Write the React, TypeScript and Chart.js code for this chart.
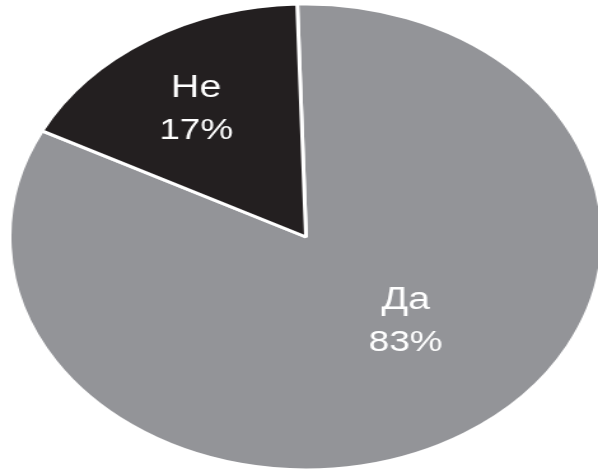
import React, { useEffect, useRef } from "react";
import { Chart, registerables } from "chart.js";

Chart.register(...registerables);

const categories: string[] = ["Да", "Не"];
const values: number[] = [83, 17];
const sliceColors: string[] = ["#939498", "#231f20"];

// label placement relative to each arc (fraction of radius, angle shift in degrees)
const labelRadiusFraction: number[] = [0.49, 0.666];
const labelAngleShift: number[] = [-11, -1.5];

const INTERNAL_W = 470;
const INTERNAL_H = 469;
const DISPLAY_W = 598;
const DISPLAY_H = 469;

const labelPlugin = {
  id: "sliceLabels",
  afterDatasetsDraw(chart: any) {
    const ctx = chart.ctx;
    const meta = chart.getDatasetMeta(0);
    const data = chart.data.datasets[0].data as number[];
    const total = data.reduce((a, b) => a + b, 0);
    ctx.save();
    ctx.fillStyle = "#ffffff";
    ctx.textAlign = "center";
    ctx.textBaseline = "middle";
    meta.data.forEach((arc: any, i: number) => {
      const p = arc.getProps(["x", "y", "startAngle", "endAngle", "outerRadius"], true);
      const mid = (p.startAngle + p.endAngle) / 2 + (labelAngleShift[i] * Math.PI) / 180;
      const r = p.outerRadius * labelRadiusFraction[i];
      const cx = p.x + Math.cos(mid) * r;
      const cy = p.y + Math.sin(mid) * r;
      const pct = Math.round((data[i] / total) * 100) + "%";
      ctx.font = "31px 'Liberation Sans', Arial, sans-serif";
      ctx.fillText(chart.data.labels[i], cx, cy - 20);
      ctx.font = "29px 'Liberation Sans', Arial, sans-serif";
      ctx.fillText(pct, cx, cy + 23);
    });
    ctx.restore();
  },
};

export default function App() {
  const ref = useRef<HTMLCanvasElement | null>(null);
  useEffect(() => {
    if (!ref.current) return;
    const chart = new Chart(ref.current, {
      type: "pie",
      data: {
        labels: categories,
        datasets: [
          {
            data: values,
            backgroundColor: sliceColors,
            borderColor: "#ffffff",
            borderWidth: 3,
            radius: 233,
            clip: false,
          } as any,
        ],
      },
      options: {
        responsive: false,
        devicePixelRatio: 1,
        animation: false,
        rotation: -1.7,
        layout: { padding: { left: 11, top: 5, right: 0, bottom: 0 } },
        plugins: {
          legend: { display: false },
          tooltip: { enabled: false },
        },
      } as any,
      plugins: [labelPlugin],
    });
    return () => chart.destroy();
  }, []);
  return (
    <div style={{ position: "fixed", left: 0, top: 0, width: DISPLAY_W, height: DISPLAY_H, background: "#ffffff", overflow: "hidden" }}>
      <canvas
        ref={ref}
        width={INTERNAL_W}
        height={INTERNAL_H}
        style={{ display: "block", width: DISPLAY_W + "px", height: DISPLAY_H + "px" }}
      />
    </div>
  );
}
